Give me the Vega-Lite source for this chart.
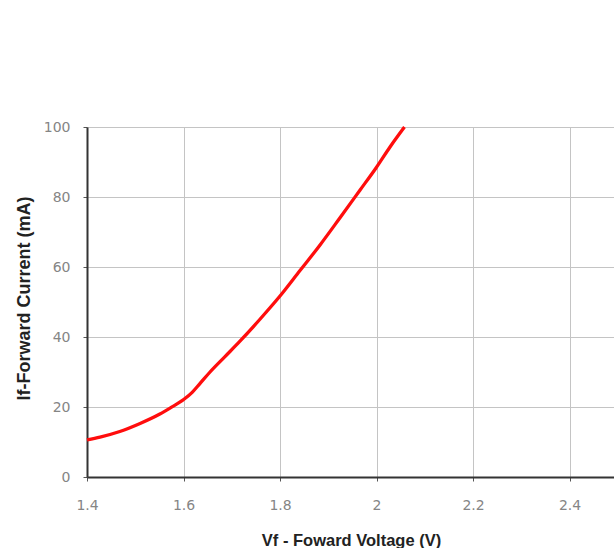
{
  "$schema": "https://vega.github.io/schema/vega-lite/v6.json",
  "autosize": {"type": "none"},
  "padding": {"left": 87, "top": 127, "right": 0, "bottom": 71},
  "width": 527,
  "height": 350,
  "background": "white",
  "config": {
    "view": {"stroke": null},
    "axis": {
      "labelFont": "DejaVu Sans",
      "labelFontSize": 14,
      "labelColor": "#858585",
      "labelFlush": false,
      "titleFont": "Liberation Sans",
      "titleFontWeight": "bold",
      "titleColor": "#222222",
      "gridColor": "#c4c4c4",
      "gridWidth": 1,
      "gridOpacity": 1,
      "domainColor": "#333333",
      "domainWidth": 2,
      "tickColor": "#555555",
      "tickSize": 4
    }
  },
  "datasets": {
    "curve": [
      {"voltage": 1.400, "current": 10.6},
      {"voltage": 1.427, "current": 11.4},
      {"voltage": 1.468, "current": 13.0},
      {"voltage": 1.510, "current": 15.3},
      {"voltage": 1.551, "current": 18.0},
      {"voltage": 1.572, "current": 19.7},
      {"voltage": 1.601, "current": 22.2},
      {"voltage": 1.618, "current": 24.2},
      {"voltage": 1.634, "current": 26.7},
      {"voltage": 1.655, "current": 30.0},
      {"voltage": 1.686, "current": 34.4},
      {"voltage": 1.717, "current": 38.8},
      {"voltage": 1.758, "current": 45.0},
      {"voltage": 1.800, "current": 51.7},
      {"voltage": 1.841, "current": 58.9},
      {"voltage": 1.883, "current": 66.3},
      {"voltage": 1.924, "current": 74.0},
      {"voltage": 1.966, "current": 82.0},
      {"voltage": 1.999, "current": 88.3},
      {"voltage": 2.028, "current": 94.3},
      {"voltage": 2.058, "current": 100.0}
    ]
  },
  "layer": [
    {
      "data": {"name": "curve"},
      "mark": {"type": "line", "color": "#ff0d0d", "strokeWidth": 3.3, "interpolate": "monotone"},
      "encoding": {
        "x": {
          "field": "voltage", "type": "quantitative",
          "scale": {"domain": [1.4, 2.4922], "nice": false, "zero": false},
          "axis": {
            "values": [1.4, 1.6, 1.8, 2.0, 2.2, 2.4],
            "format": "~g",
            "labelPadding": 17,
            "title": "Vf - Foward Voltage (V)",
            "titleFontSize": 16.5,
            "titleX": 264,
            "titleY": 63,
            "titleBaseline": "middle",
            "titleAnchor": "middle"
          }
        },
        "y": {
          "field": "current", "type": "quantitative",
          "scale": {"domain": [0, 100], "nice": false},
          "axis": {
            "values": [0, 20, 40, 60, 80, 100],
            "labelPadding": 13,
            "title": "If-Forward Current (mA)",
            "titleFontSize": 18,
            "titleX": -63,
            "titleY": 171,
            "titleAngle": -90,
            "titleBaseline": "middle",
            "titleAnchor": "middle"
          }
        }
      }
    },
    {
      "mark": {"type": "rule", "color": "#333333", "strokeWidth": 2},
      "encoding": {"y": {"datum": 100, "type": "quantitative"}}
    }
  ]
}
